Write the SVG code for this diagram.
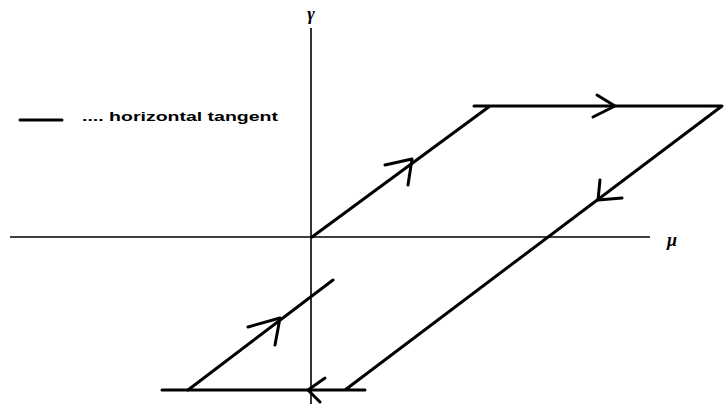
<svg xmlns="http://www.w3.org/2000/svg" width="726" height="404" viewBox="0 0 726 404">
<style>
.axis{stroke:#000;stroke-width:1.6;fill:none}
.curve{stroke:#000;stroke-width:3;fill:none;stroke-linecap:round;stroke-linejoin:round}
.head{stroke:#000;stroke-width:3;fill:none;stroke-linecap:round;stroke-linejoin:round}
.lbl{font-family:"Liberation Sans",Arial,sans-serif;font-weight:bold;fill:#000}
.greek{font-family:"Liberation Serif","DejaVu Serif",serif;font-style:italic;font-weight:bold;fill:#000}
</style>
<rect width="726" height="404" fill="#fff"/>
<g id="axes">
<line class="axis" x1="10" y1="237" x2="650" y2="237"/>
<line class="axis" x1="311" y1="28" x2="311" y2="404"/>
</g>
<g id="label-gamma"><text class="greek" x="311" y="20" font-size="18" text-anchor="middle">γ</text></g>
<g id="label-mu"><text class="greek" x="672" y="246" font-size="18" text-anchor="middle">μ</text></g>
<g id="legend">
<line class="curve" x1="20" y1="120" x2="62" y2="120" stroke-width="2.5"/>
<text class="lbl" x="82" y="121" font-size="13" textLength="196" lengthAdjust="spacingAndGlyphs">.... horizontal tangent</text>
</g>
<g id="connectors">
<polyline class="curve" points="312,237 490,106 474,106 722,106 345,390 162,390 365,390"/>
<line class="curve" x1="188" y1="390" x2="333" y2="280"/>
<polyline class="head" points="597,95 615,106 593,117"/>
<polyline class="head" points="600,180 598,200 622,198"/>
<polyline class="head" points="385,165 412,159 408,185"/>
<polyline class="head" points="248,327 280,318 275,345"/>
<polyline class="head" points="325,378 308,390 320,402"/>
</g>
</svg>
